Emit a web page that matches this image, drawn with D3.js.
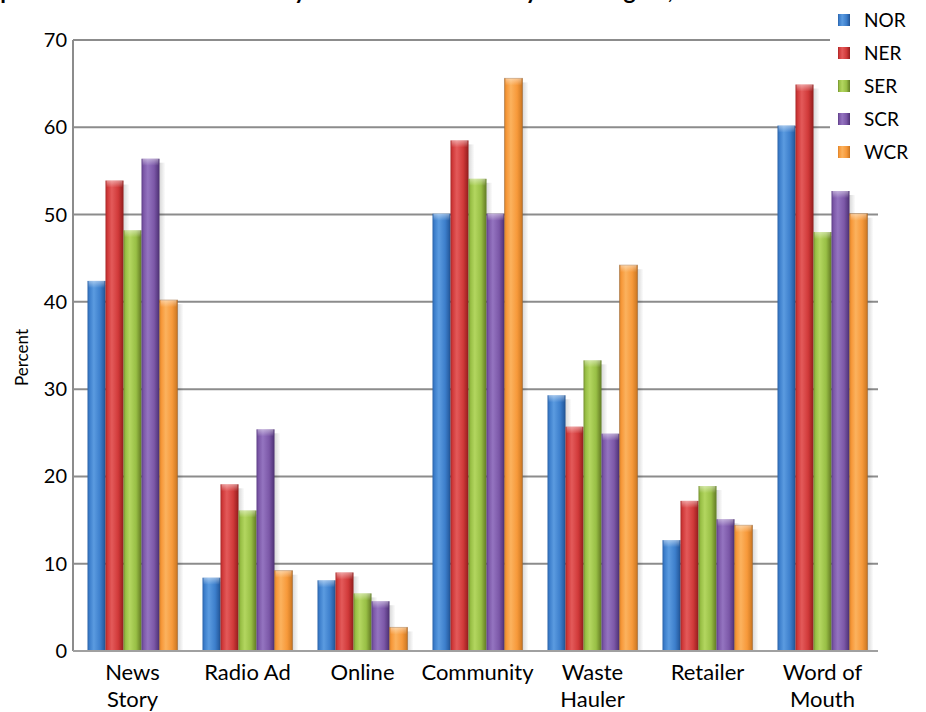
<!DOCTYPE html>
<html><head><meta charset="utf-8">
<script src="https://cdn.jsdelivr.net/npm/d3@7"></script>
<style>
body{margin:0;background:#fff;overflow:hidden}
text{font-family:Lato,"Open Sans",sans-serif;fill:#000}
</style></head>
<body><svg id="chart" width="926" height="712"></svg>
<script>
const categories = ["News Story","Radio Ad","Online","Community","Waste Hauler","Retailer","Word of Mouth"];
const categoryLines = [["News","Story"],["Radio Ad"],["Online"],["Community"],["Waste","Hauler"],["Retailer"],["Word of","Mouth"]];
const seriesNames = ["NOR","NER","SER","SCR","WCR"];
const NOR = [42.4, 8.4, 8.1, 50.1, 29.3, 12.7, 60.2];
const NER = [53.9, 19.1, 9.0, 58.5, 25.7, 17.2, 64.9];
const SER = [48.2, 16.1, 6.6, 54.1, 33.3, 18.9, 48.0];
const SCR = [56.4, 25.4, 5.7, 50.1, 24.9, 15.1, 52.7];
const WCR = [40.2, 9.2, 2.7, 65.6, 44.2, 14.4, 50.1];
const yTicks = [0, 10, 20, 30, 40, 50, 60, 70];
const titleText = "Top Awareness Sources Cited by Residents as Noted by Each Region, 2010";
const yTitle = "Percent";

const seriesValues = [NOR, NER, SER, SCR, WCR];
const colors = {
  NOR: ["#1f4f8c", "#3d7fcc", "#5b9be0", "#2a62a8"],
  NER: ["#8e1c1c", "#d13a3a", "#e35a5a", "#a82626"],
  SER: ["#5f7f24", "#98bf45", "#b3d660", "#748f2e"],
  SCR: ["#4a2f6e", "#7c58a8", "#9474c0", "#5c3d85"],
  WCR: ["#c56f1c", "#f7993a", "#fbb25e", "#d9822a"]
};

const svg = d3.select("#chart");
const pL = 73, pR = 878, pT = 40, pB = 651;

const y = d3.scaleLinear().domain([0, 70]).range([pB, pT]);
const x0 = d3.scaleBand().domain(categories).range([pL + 2, pR + 2]).paddingInner(0.2174).paddingOuter(0.1087);
const x1 = d3.scaleBand().domain(seriesNames).range([0, x0.bandwidth()]);

const defs = svg.append("defs");
seriesNames.forEach(s => {
  const c = colors[s];
  const g = defs.append("linearGradient").attr("id", "g" + s).attr("x1", 0).attr("x2", 1).attr("y1", 0).attr("y2", 0);
  [[0, c[3]], [0.12, c[1]], [0.35, c[2]], [0.7, c[1]], [0.9, c[3]], [1, c[0]]].forEach(([o, col]) =>
    g.append("stop").attr("offset", o).attr("stop-color", col));
  const t = defs.append("linearGradient").attr("id", "t" + s).attr("x1", 0).attr("x2", 0).attr("y1", 0).attr("y2", 1);
  t.append("stop").attr("offset", 0).attr("stop-color", "#fff").attr("stop-opacity", 0.45);
  t.append("stop").attr("offset", 1).attr("stop-color", "#fff").attr("stop-opacity", 0);
});
const sh = defs.append("linearGradient").attr("id", "shadow").attr("x1", 0).attr("x2", 1);
sh.append("stop").attr("offset", 0).attr("stop-color", "#000").attr("stop-opacity", 0.18);
sh.append("stop").attr("offset", 1).attr("stop-color", "#000").attr("stop-opacity", 0);

// title (clipped at top, as in the source image)
svg.append("text").attr("x", -24).attr("y", -1).attr("font-size", 23).attr("font-weight", "bold")
  .text(titleText);

// gridlines
svg.append("g").selectAll("line").data(yTicks).join("line")
  .attr("x1", pL).attr("x2", pR).attr("y1", d => y(d)).attr("y2", d => y(d))
  .attr("stroke", "#8c8c8c").attr("stroke-width", 2);

// y axis line
svg.append("line").attr("x1", pL).attr("x2", pL).attr("y1", pT).attr("y2", pB)
  .attr("stroke", "#8c8c8c").attr("stroke-width", 2);

// y tick labels
svg.append("g").selectAll("text").data(yTicks).join("text")
  .attr("x", pL - 6).attr("y", d => y(d)).attr("dy", "0.35em").attr("text-anchor", "end")
  .attr("font-size", 20).text(d => d);

// y title
svg.append("text").attr("transform", `translate(28,${(pT + pB) / 2 + 12}) rotate(-90)`)
  .attr("text-anchor", "middle").attr("font-size", 17).text(yTitle);

// legend background
svg.append("rect").attr("x", 830).attr("y", 0).attr("width", 96).attr("height", 178).attr("fill", "#fff");

// bars
const groups = svg.append("g").selectAll("g").data(categories).join("g")
  .attr("transform", d => `translate(${x0(d)},0)`);

groups.each(function(cat, ci) {
  const g = d3.select(this);
  seriesNames.forEach((s, si) => {
    const v = seriesValues[si][ci];
    const bx = x1(s), bw = x1.bandwidth();
    g.append("rect").attr("x", bx + bw - 1).attr("y", y(v) + 4).attr("width", 7)
      .attr("height", pB - y(v) - 4).attr("fill", "url(#shadow)");
  });
  seriesNames.forEach((s, si) => {
    const v = seriesValues[si][ci];
    const bx = x1(s), bw = x1.bandwidth();
    g.append("rect").attr("x", bx).attr("y", y(v)).attr("width", bw).attr("height", pB - y(v))
      .attr("fill", `url(#g${s})`)
      .attr("stroke", s === "WCR" ? "#9a6a3a" : "none").attr("stroke-opacity", 0.55).attr("stroke-width", 1);
    g.append("rect").attr("x", bx + 1).attr("y", y(v)).attr("width", bw - 2).attr("height", 7)
      .attr("fill", `url(#t${s})`);
  });
});

// baseline
svg.append("line").attr("x1", pL).attr("x2", pR).attr("y1", pB).attr("y2", pB)
  .attr("stroke", "#a0a0a0").attr("stroke-width", 2);

// category labels
const labels = svg.append("g").selectAll("text").data(categories).join("text")
  .attr("text-anchor", "middle").attr("font-size", 22)
  .attr("transform", d => `translate(${x0(d) + x0.bandwidth() / 2},${pB + 29})`);
labels.each(function(d, i) {
  d3.select(this).selectAll("tspan").data(categoryLines[i]).join("tspan")
    .attr("x", 0).attr("dy", (t, j) => j === 0 ? 0 : 27).text(t => t);
});

// legend
const leg = svg.append("g").selectAll("g").data(seriesNames).join("g")
  .attr("transform", (d, i) => `translate(838,${20 + i * 33})`);
leg.append("rect").attr("x", 0).attr("y", -6).attr("width", 12).attr("height", 12)
  .attr("fill", d => `url(#g${d})`);
leg.append("text").attr("x", 26).attr("dy", "0.35em").attr("font-size", 19).text(d => d);
</script>
</body></html>
